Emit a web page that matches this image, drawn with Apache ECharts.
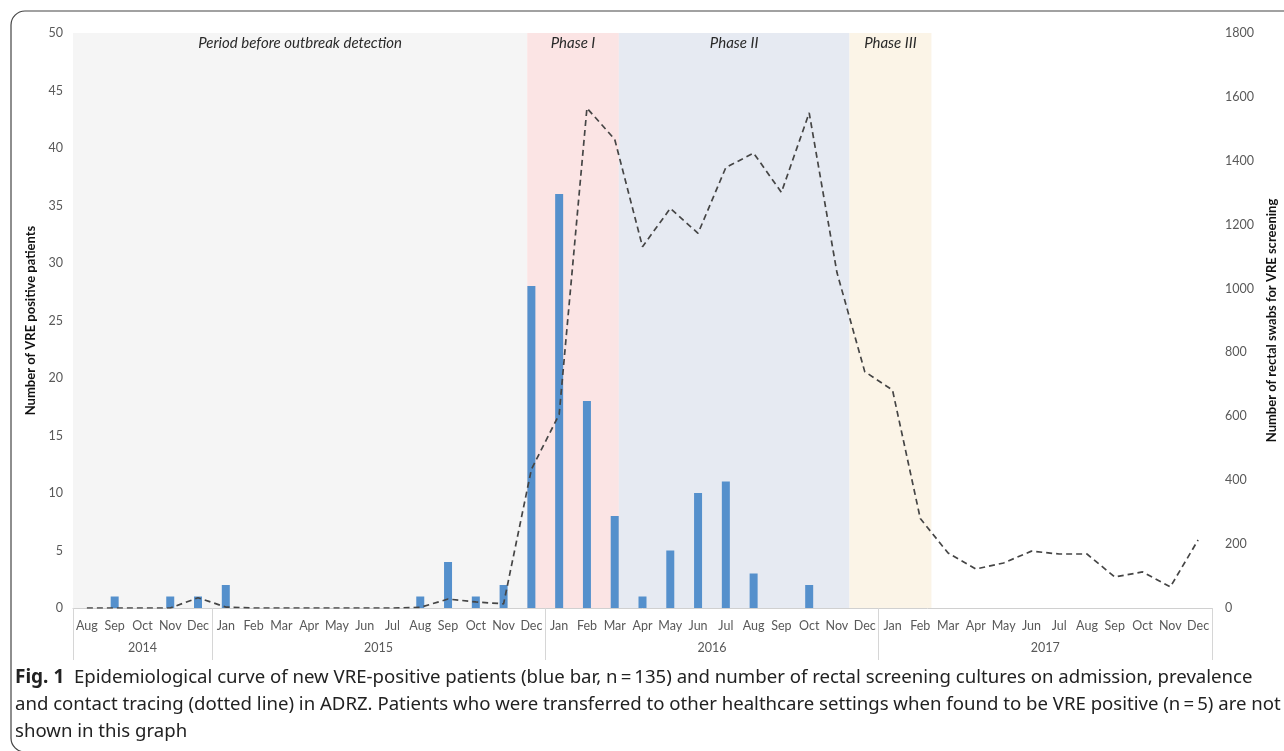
<!DOCTYPE html>
<html>
<head>
<meta charset="utf-8">
<script src="https://cdn.jsdelivr.net/npm/echarts@6/dist/echarts.min.js"></script>
<style>
html,body{margin:0;padding:0;background:#fff;overflow:hidden;width:1284px;height:751px;}
#chart{width:1284px;height:751px;}
</style>
</head>
<body>
<div id="chart"></div>
<script>
// ---- data ----
var months = ['Aug','Sep','Oct','Nov','Dec',
  'Jan','Feb','Mar','Apr','May','Jun','Jul','Aug','Sep','Oct','Nov','Dec',
  'Jan','Feb','Mar','Apr','May','Jun','Jul','Aug','Sep','Oct','Nov','Dec',
  'Jan','Feb','Mar','Apr','May','Jun','Jul','Aug','Sep','Oct','Nov','Dec'];
var years = ['2014','2015','2016','2017'];
var monthsPerYear = [5, 12, 12, 12];
var vrePatients = [0,1,0,1,1,
  2,0,0,0,0,0,0,1,4,1,2,28,
  36,18,8,1,5,10,11,3,0,2,0,0,
  0,0,0,0,0,0,0,0,0,0,0,0];
var rectalSwabs = [0,0,0,0,32,
  3,0,0,0,0,0,0,2,28,19,13,434,
  606,1565,1467,1131,1251,1173,1379,1424,1301,1550,1050,740,
  682,280,172,122,141,178,169,169,97,113,66,213];
var leftTicks = {min:0, max:50, interval:5};
var rightTicks = {min:0, max:1800, interval:200};
// phases, in month-index units (start/end of the shaded band)
var phaseNames = ['Period before outbreak detection','Phase I','Phase II','Phase III'];
var phaseStart = [-0.5, 15.85, 19.15, 27.45];
var phaseEnd   = [15.85, 19.15, 27.45, 30.4];
var phaseColors = ['#f5f5f5','#fbe4e4','#e6eaf2','#fbf4e7'];

// derived year label centres and separators
var yearCenters = [], yearBounds = [-0.5], acc = -0.5;
monthsPerYear.forEach(function(n){ yearCenters.push(acc + n/2); acc += n; yearBounds.push(acc); });

var chart = echarts.init(document.getElementById('chart'), null, {width: 1284, height: 751});
var font = 'Lato';
var axisTextColor = '#595959';

var captionLines = [
  '{b|Fig. 1}  Epidemiological curve of new VRE-positive patients (blue bar, n\u2009=\u2009135) and number of rectal screening cultures on admission, prevalence',
  'and contact tracing (dotted line) in ADRZ. Patients who were transferred to other healthcare settings when found to be VRE positive (n\u2009=\u20095) are not',
  'shown in this graph'
];

var option = {
  animation: false,
  backgroundColor: '#fff',
  textStyle: {fontFamily: font},
  title: {
    text: captionLines.join('\n'),
    left: 10, top: 659,
    textStyle: {
      fontFamily: 'Noto Sans', fontSize: 18.6, fontWeight: 'normal', color: '#222', lineHeight: 27,
      rich: {b: {fontFamily: 'Noto Sans', fontSize: 19, fontWeight: 'bold', color: '#222', lineHeight: 27}}
    }
  },
  graphic: [{
    type: 'rect', silent: true,
    shape: {x: 11, y: 11, width: 1420, height: 741, r: 14},
    style: {fill: 'none', stroke: '#444', lineWidth: 1.2}
  }],
  grid: {left: 73, right: 72, top: 33, bottom: 143, containLabel: false, outerBoundsMode: 'none'},
  xAxis: [{
    type: 'category', data: months, boundaryGap: true,
    axisLine: {show: true, lineStyle: {color: '#d0d0d0', width: 1}},
    axisTick: {show: false},
    axisLabel: {interval: 0, color: axisTextColor, fontSize: 12.5, margin: 11, fontFamily: font},
    splitLine: {show: false}
  }, {
    type: 'value', min: -0.5, max: 40.5, position: 'bottom',
    axisLine: {show: false},
    axisTick: {show: true, customValues: yearBounds, length: 52, inside: false, lineStyle: {color: '#d6d6d6'}},
    axisLabel: {
      show: true, customValues: yearCenters, margin: 33, color: axisTextColor, fontSize: 12.5, fontFamily: font,
      formatter: function(v){
        var best = 0;
        for (var i = 0; i < yearCenters.length; i++) if (Math.abs(yearCenters[i]-v) < Math.abs(yearCenters[best]-v)) best = i;
        return years[best];
      }
    },
    splitLine: {show: false}
  }],
  yAxis: [{
    type: 'value', min: leftTicks.min, max: leftTicks.max, interval: leftTicks.interval,
    name: 'Number of VRE positive patients', nameLocation: 'middle', nameGap: 31, nameRotate: 90,
    nameTextStyle: {fontWeight: 'bold', color: '#111', fontSize: 13, fontFamily: font},
    axisLine: {show: false}, axisTick: {show: false}, splitLine: {show: false},
    axisLabel: {color: axisTextColor, fontSize: 12.5, margin: 10, fontFamily: font}
  }, {
    type: 'value', min: rightTicks.min, max: rightTicks.max, interval: rightTicks.interval, position: 'right',
    name: 'Number of rectal swabs for VRE screening', nameLocation: 'middle', nameGap: 53, nameRotate: 90,
    nameTextStyle: {fontWeight: 'bold', color: '#111', fontSize: 13, fontFamily: font},
    axisLine: {show: false}, axisTick: {show: false}, splitLine: {show: false},
    axisLabel: {color: axisTextColor, fontSize: 12.5, margin: 13, fontFamily: font,
      formatter: function(v){ return String(v); }}
  }],
  series: [{
    type: 'line', xAxisIndex: 1, yAxisIndex: 0, data: [], z: 0, silent: true,
    markArea: {
      silent: true,
      data: phaseNames.map(function(n, i){
        return [{name: n, xAxis: phaseStart[i], itemStyle: {color: phaseColors[i]}}, {xAxis: phaseEnd[i]}];
      }),
      label: {show: true, position: 'insideTop', distance: 3, fontStyle: 'italic', fontSize: 15, color: '#2a2a2a', fontFamily: font}
    }
  }, {
    name: 'VRE-positive patients', type: 'bar', xAxisIndex: 0, yAxisIndex: 0,
    data: vrePatients, barWidth: 8, z: 3,
    itemStyle: {color: '#5590cc'}
  }, {
    name: 'Rectal swabs', type: 'line', xAxisIndex: 0, yAxisIndex: 1,
    data: rectalSwabs, symbol: 'none', z: 4,
    lineStyle: {color: '#454545', width: 1.7, type: [6, 4]}
  }]
};
chart.setOption(option);
</script>
</body>
</html>
